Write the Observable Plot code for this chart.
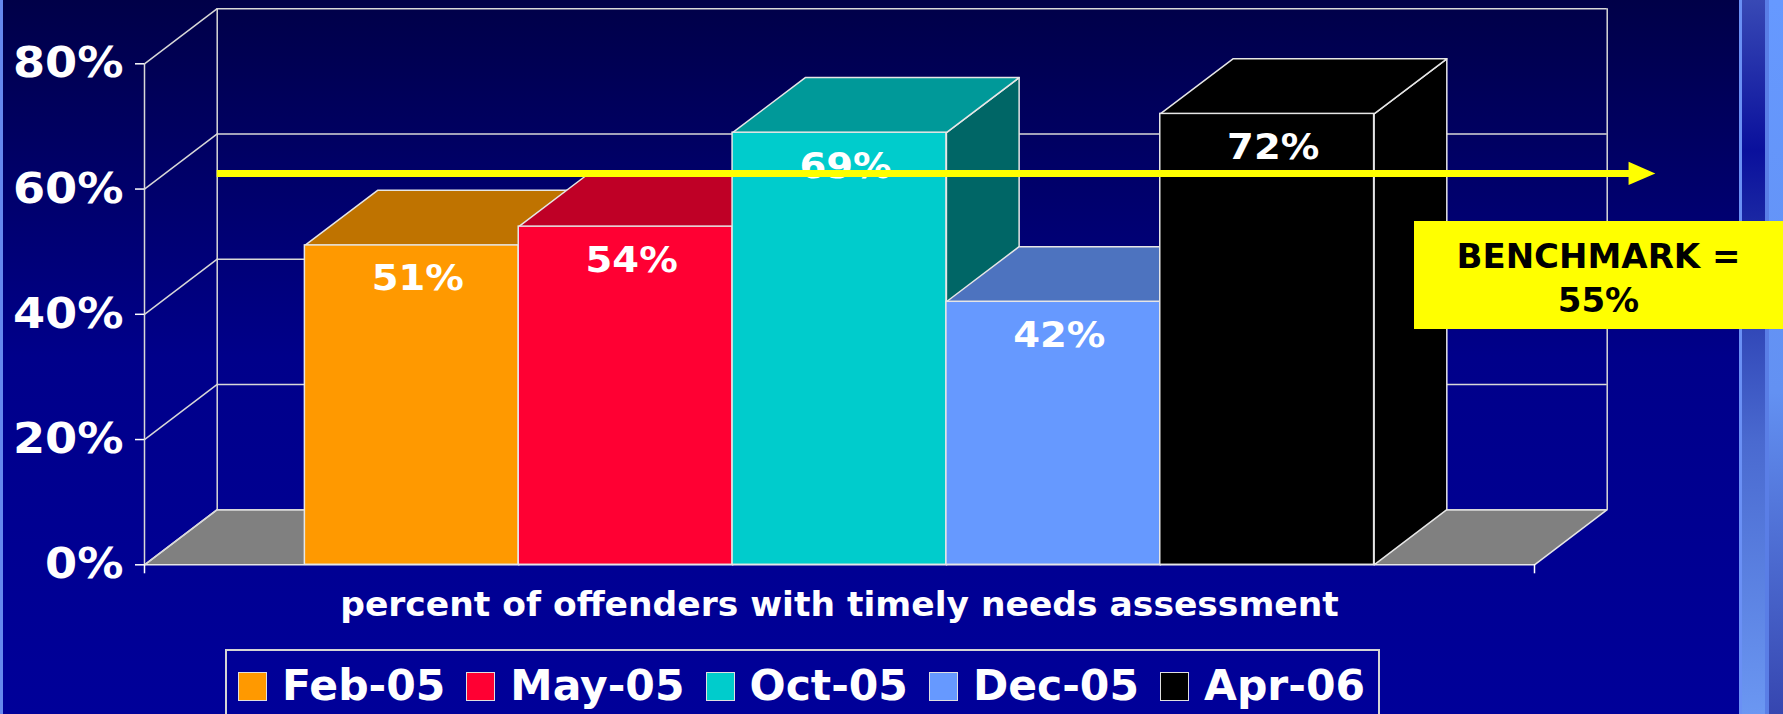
<!DOCTYPE html>
<html>
<head>
<meta charset="utf-8">
<script src="https://cdn.jsdelivr.net/npm/d3@7"></script>
<script src="https://cdn.jsdelivr.net/npm/@observablehq/plot@0.6"></script>
<style>
html, body { margin: 0; padding: 0; width: 1783px; height: 714px; overflow: hidden; }
body {
  position: relative;
  background: linear-gradient(to bottom, #000048 0%, #00008a 50%, #000099 100%);
  font-family: "DejaVu Sans", sans-serif;
}
.stripe { position: absolute; top: 0; height: 714px; }
#chart { position: absolute; left: 0; top: 0; }
#bench {
  position: absolute; left: 1414px; top: 221px; width: 369px; height: 108px;
  box-sizing: border-box; padding-top: 5px;
  background: #ffff00; color: #000;
  font: bold 34px/44px "DejaVu Sans", sans-serif;
  white-space: pre-line; text-align: center;
  display: flex; align-items: center; justify-content: center;
}
#legend {
  position: absolute; left: 225px; top: 649px; width: 1155px; height: 90px;
  box-sizing: border-box; border: 2px solid #d4d4d4;
  display: flex; align-items: flex-start; padding: 14px 0 0 11px;
}
#legend .item {
  display: flex; align-items: center; height: 42px; margin-right: 21px;
  font: bold 42.5px/1 "DejaVu Sans", sans-serif; color: #fff; white-space: nowrap;
}
#legend .sw { width: 27px; height: 27px; border: 1.5px solid #e0e0e0; margin-right: 15px; flex: none; }
</style>
</head>
<body>
<div class="stripe" style="left:0;width:3px;background:#6688ee"></div>
<div class="stripe" style="left:1738.7px;width:3.3px;background:#6a90f5"></div>
<div class="stripe" style="left:1742px;width:23.3px;background:linear-gradient(to bottom,#3849b5 0%,#0a109c 21%,#1f2ea6 34%,#4a6ad0 62%,#6b97f2 100%)"></div>
<div class="stripe" style="left:1765.3px;width:3.4px;background:#5a7ee6"></div>
<div class="stripe" style="left:1768.7px;width:14.3px;background:linear-gradient(to bottom,#6699ff 0%,#6391f2 55%,#3646b0 100%)"></div>
<div id="chart"></div>
<div id="bench"></div>
<div id="legend"></div>
<script>
// ---- data ----
const categories = ["Feb-05", "May-05", "Oct-05", "Dec-05", "Apr-06"];
const values = [51, 54, 69, 42, 72];
const yTicks = [0, 20, 40, 60, 80];
const benchmark = 55;
const axisTitle = "percent of offenders with timely needs assessment";
const benchLabel = "BENCHMARK =";

// ---- styles ----
const frontColors = ["#FF9900", "#FF0033", "#00CCCC", "#6699FF", "#000000"];
function shade(c, k) { const r = d3.rgb(c); return d3.rgb(r.r * k, r.g * k, r.b * k).formatHex(); }
const edge = "#e6e6e6";
const grid = "#d8d8d8";
const yellow = "#ffff00";

// 3D oblique depth, in data units
const xMin = -0.75, xMax = categories.length + 0.75;
const dX = 0.34, dY = 8.8;
const arrowLevel = 62.5;               // drawn level of the benchmark arrow
const arrowEnd = xMax + 0.45, arrowTip = xMax + 0.565, headHalf = 1.86;

const bars = categories.map((c, i) => ({category: c, value: values[i], i, color: frontColors[i]}));

const poly = pts => pts.concat([pts[0]]).map(([x, y]) => ({x, y}));
const floorPts = poly([[xMin, 0], [xMin + dX, dY], [xMax + dX, dY], [xMax, 0]]);

const sideMarks = bars.map(b => Plot.line(
  poly([[b.i + 1, 0], [b.i + 1 + dX, dY], [b.i + 1 + dX, b.value + dY], [b.i + 1, b.value]]),
  {x: "x", y: "y", fill: shade(b.color, 0.5), stroke: edge, strokeWidth: 1.5, strokeLinejoin: "round"}));
const topMarks = bars.map(b => Plot.line(
  poly([[b.i, b.value], [b.i + 1, b.value], [b.i + 1 + dX, b.value + dY], [b.i + dX, b.value + dY]]),
  {x: "x", y: "y", fill: shade(b.color, 0.75), stroke: edge, strokeWidth: 1.5, strokeLinejoin: "round"}));

const chart = Plot.plot({
  width: 1783, height: 650,
  marginLeft: 144, marginRight: 249, marginTop: 63.3, marginBottom: 85.7,
  x: {domain: [xMin, xMax], axis: null},
  y: {domain: [0, 80], axis: null},
  style: {background: "transparent", overflow: "visible", fontFamily: "DejaVu Sans, sans-serif"},
  marks: [
    // floor
    Plot.line(floorPts, {x: "x", y: "y", fill: "#808080", stroke: edge, strokeWidth: 1.5}),
    // back wall gridlines
    Plot.ruleY(yTicks, {y: d => d + dY, x1: () => xMin + dX, x2: () => xMax + dX, stroke: grid, strokeWidth: 1.5}),
    Plot.ruleX([xMin + dX, xMax + dX], {y1: () => dY, y2: () => 80 + dY, stroke: grid, strokeWidth: 1.5}),
    // left wall gridlines
    Plot.link(yTicks, {x1: () => xMin, y1: d => d, x2: () => xMin + dX, y2: d => d + dY, stroke: grid, strokeWidth: 1.5}),
    // front value axis
    Plot.ruleX([xMin], {y1: () => 0, y2: () => 80, stroke: grid, strokeWidth: 1.5}),
    Plot.axisY(yTicks, {anchor: "left", tickSize: 9, tickPadding: 12, tickFormat: d => d + "%",
      fontSize: 42, fontWeight: "bold", color: "white", label: null, strokeWidth: 1.5}),
    Plot.axisX([xMin, xMax], {anchor: "bottom", tickSize: 9, tickFormat: () => "", label: null, color: "white", strokeWidth: 1.5}),
    // bars
    ...sideMarks,
    ...topMarks,
    Plot.rect(bars, {x1: d => d.i, x2: d => d.i + 1, y1: () => 0, y2: "value", fill: "color", stroke: edge, strokeWidth: 1.5}),
    // value labels
    Plot.text(bars, {x: d => d.i + 0.5, y: "value", text: d => d.value + "%", lineAnchor: "bottom", dy: 45, dx: 6,
      fill: "white", fontSize: 35, fontWeight: "bold"}),
    // benchmark arrow
    Plot.ruleY([arrowLevel], {x1: () => xMin + dX, x2: () => arrowEnd, stroke: yellow, strokeWidth: 7}),
    Plot.line(poly([[arrowEnd - 0.01, arrowLevel + headHalf], [arrowTip, arrowLevel], [arrowEnd - 0.01, arrowLevel - headHalf]]),
      {x: "x", y: "y", fill: yellow, stroke: "none"}),
    // category axis title
    Plot.text([axisTitle], {text: d => d, frameAnchor: "bottom", lineAnchor: "bottom", dy: 51,
      fill: "white", fontSize: 34.5, fontWeight: "bold"})
  ]
});
chart.style.background = "transparent";
document.getElementById("chart").append(chart);

// the reference's percent labels are horizontally stretched: widen glyphs a little
function widen(selector, k) {
  chart.querySelectorAll(selector).forEach(t => {
    const len = t.getComputedTextLength();
    if (len > 0) {
      t.setAttribute("textLength", (len * k).toFixed(1));
      t.setAttribute("lengthAdjust", "spacingAndGlyphs");
    }
  });
}
widen('g[aria-label="y-axis tick label"] text', 1.1);
widen('g[font-size="35"] text', 1.1);

document.getElementById("bench").textContent = `${benchLabel}\n${benchmark}%`;

const legend = document.getElementById("legend");
bars.forEach(b => {
  const item = document.createElement("div");
  item.className = "item";
  const sw = document.createElement("span");
  sw.className = "sw";
  sw.style.background = b.color;
  const tx = document.createElement("span");
  tx.textContent = b.category;
  item.append(sw, tx);
  legend.append(item);
});
</script>
</body>
</html>
